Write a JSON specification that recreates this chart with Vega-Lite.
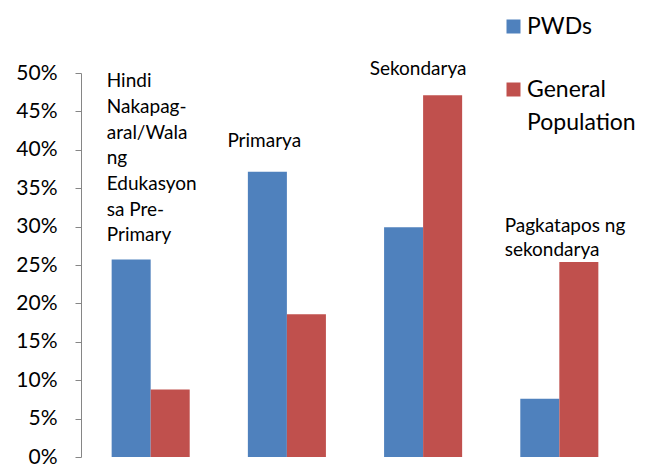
{
  "$schema": "https://vega.github.io/schema/vega-lite/v6.json",
  "width": 548,
  "height": 384,
  "autosize": "none",
  "padding": {"left": 81, "top": 73, "right": 19, "bottom": 8},
  "background": "white",
  "config": {"view": {"stroke": null}, "font": "Lato"},
  "datasets": {
    "bars": [
      {"category": "Hindi Nakapag-aral", "series": "PWDs", "value": 0.257},
      {"category": "Hindi Nakapag-aral", "series": "General Population", "value": 0.088},
      {"category": "Primarya", "series": "PWDs", "value": 0.3715},
      {"category": "Primarya", "series": "General Population", "value": 0.186},
      {"category": "Sekondarya", "series": "PWDs", "value": 0.299},
      {"category": "Sekondarya", "series": "General Population", "value": 0.471},
      {"category": "Pagkatapos ng sekondarya", "series": "PWDs", "value": 0.076},
      {"category": "Pagkatapos ng sekondarya", "series": "General Population", "value": 0.254}
    ],
    "labels": [
      {"category": "Hindi Nakapag-aral", "label": "Hindi\nNakapag-\naral/Wala\nng\nEdukasyon\nsa Pre-\nPrimary"},
      {"category": "Primarya", "label": "Primarya"},
      {"category": "Sekondarya", "label": "Sekondarya"},
      {"category": "Pagkatapos ng sekondarya", "label": "Pagkatapos ng\nsekondarya"}
    ]
  },
  "layer": [
    {
      "data": {"name": "bars"},
      "mark": {"type": "bar"},
      "encoding": {
        "x": {
          "field": "category", "type": "nominal", "sort": null,
          "scale": {"domain": ["Hindi Nakapag-aral", "Primarya", "Sekondarya", "Pagkatapos ng sekondarya"], "paddingInner": 0.427, "paddingOuter": 0.225},
          "axis": null
        },
        "xOffset": {"field": "series", "type": "nominal", "sort": ["PWDs", "General Population"]},
        "y": {
          "field": "value", "type": "quantitative",
          "scale": {"domain": [0, 0.5], "nice": false},
          "axis": {
            "values": [0, 0.05, 0.1, 0.15, 0.2, 0.25, 0.3, 0.35, 0.4, 0.45, 0.5],
            "format": ".0%", "grid": false, "title": null,
            "domainColor": "#868686", "tickColor": "#868686", "tickSize": 6,
            "labelPadding": 18, "labelFontSize": 21, "labelColor": "#000000",
            "labelFont": "Lato", "labelFlush": false, "labelOverlap": false, "labelBound": false
          }
        },
        "color": {
          "field": "series", "type": "nominal",
          "scale": {"domain": ["PWDs", "General Population"], "range": ["#4F81BD", "#C0504D"]},
          "legend": {
            "orient": "none", "legendX": 421, "legendY": -58, "title": null,
            "symbolType": "square", "symbolSize": 196, "symbolStrokeWidth": 0,
            "labelFontSize": 23, "labelFont": "Lato", "labelColor": "#000000",
            "labelOffset": 2, "rowPadding": 39, "labelLimit": 300, "padding": 0,
            "labelExpr": "datum.label == 'General Population' ? ['General', 'Population'] : datum.label",
            "encode": {"labels": {"update": {"lineHeight": {"value": 33}}}}
          }
        }
      }
    },
    {
      "data": {"name": "labels"},
      "transform": [{"filter": "datum.category == 'Hindi Nakapag-aral'"}],
      "mark": {"type": "text", "align": "left", "baseline": "alphabetic", "lineBreak": "\n", "lineHeight": 25.7, "fontSize": 19, "font": "Lato", "color": "#000000"},
      "encoding": {
        "x": {"field": "category", "type": "nominal", "sort": null, "bandPosition": -0.063, "axis": null},
        "y": {"datum": 0.4814, "type": "quantitative",
          "axis": {
            "values": [0, 0.05, 0.1, 0.15, 0.2, 0.25, 0.3, 0.35, 0.4, 0.45, 0.5],
            "format": ".0%", "grid": false, "title": null,
            "domainColor": "#868686", "tickColor": "#868686", "tickSize": 6,
            "labelPadding": 18, "labelFontSize": 21, "labelColor": "#000000",
            "labelFont": "Lato", "labelFlush": false, "labelOverlap": false, "labelBound": false
          }},
        "text": {"field": "label"}
      }
    },
    {
      "data": {"name": "labels"},
      "transform": [{"filter": "datum.category == 'Primarya'"}],
      "mark": {"type": "text", "align": "center", "baseline": "alphabetic", "fontSize": 19, "font": "Lato", "color": "#000000"},
      "encoding": {
        "x": {"field": "category", "type": "nominal", "sort": null, "bandPosition": 0.21, "axis": null},
        "y": {"datum": 0.4036, "type": "quantitative",
          "axis": {
            "values": [0, 0.05, 0.1, 0.15, 0.2, 0.25, 0.3, 0.35, 0.4, 0.45, 0.5],
            "format": ".0%", "grid": false, "title": null,
            "domainColor": "#868686", "tickColor": "#868686", "tickSize": 6,
            "labelPadding": 18, "labelFontSize": 21, "labelColor": "#000000",
            "labelFont": "Lato", "labelFlush": false, "labelOverlap": false, "labelBound": false
          }},
        "text": {"field": "label"}
      }
    },
    {
      "data": {"name": "labels"},
      "transform": [{"filter": "datum.category == 'Sekondarya'"}],
      "mark": {"type": "text", "align": "center", "baseline": "alphabetic", "fontSize": 19, "font": "Lato", "color": "#000000"},
      "encoding": {
        "x": {"field": "category", "type": "nominal", "sort": null, "bandPosition": 0.435, "axis": null},
        "y": {"datum": 0.4974, "type": "quantitative",
          "axis": {
            "values": [0, 0.05, 0.1, 0.15, 0.2, 0.25, 0.3, 0.35, 0.4, 0.45, 0.5],
            "format": ".0%", "grid": false, "title": null,
            "domainColor": "#868686", "tickColor": "#868686", "tickSize": 6,
            "labelPadding": 18, "labelFontSize": 21, "labelColor": "#000000",
            "labelFont": "Lato", "labelFlush": false, "labelOverlap": false, "labelBound": false
          }},
        "text": {"field": "label"}
      }
    },
    {
      "data": {"name": "labels"},
      "transform": [{"filter": "datum.category == 'Pagkatapos ng sekondarya'"}],
      "mark": {"type": "text", "align": "left", "baseline": "alphabetic", "lineBreak": "\n", "lineHeight": 24, "fontSize": 19, "font": "Lato", "color": "#000000"},
      "encoding": {
        "x": {"field": "category", "type": "nominal", "sort": null, "bandPosition": -0.2, "axis": null},
        "y": {"datum": 0.293, "type": "quantitative",
          "axis": {
            "values": [0, 0.05, 0.1, 0.15, 0.2, 0.25, 0.3, 0.35, 0.4, 0.45, 0.5],
            "format": ".0%", "grid": false, "title": null,
            "domainColor": "#868686", "tickColor": "#868686", "tickSize": 6,
            "labelPadding": 18, "labelFontSize": 21, "labelColor": "#000000",
            "labelFont": "Lato", "labelFlush": false, "labelOverlap": false, "labelBound": false
          }},
        "text": {"field": "label"}
      }
    }
  ]
}
